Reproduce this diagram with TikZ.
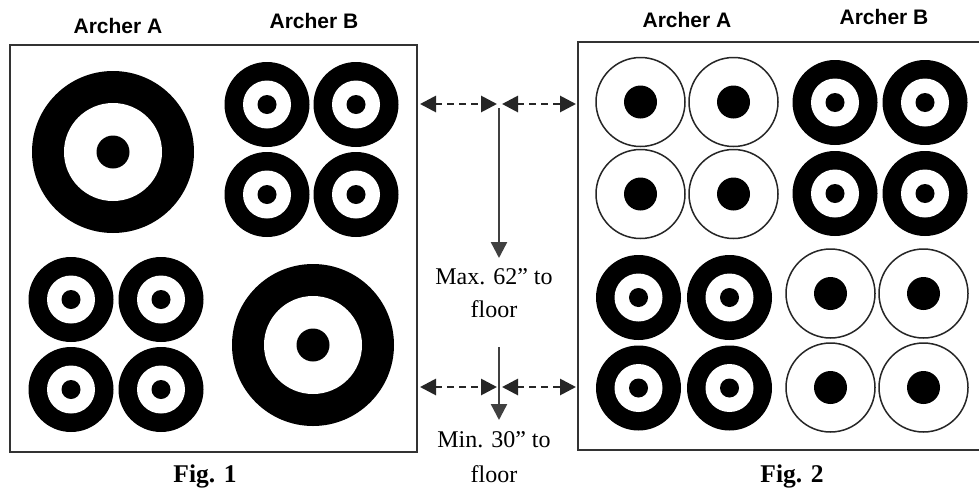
\documentclass[tikz,border=0pt]{standalone}
\usepackage{fontspec}
\setmainfont{Liberation Serif}
\newfontfamily\archerfont{Liberation Sans}
\usetikzlibrary{arrows.meta}
\tikzset{
  archer/.style={font=\archerfont\bfseries\fontsize{21}{25}\selectfont, inner sep=0pt, anchor=base},
  figcap/.style={font=\bfseries\fontsize{25.5}{30}\selectfont, inner sep=0pt, anchor=base},
  measure/.style={font=\fontsize{24}{29}\selectfont, inner sep=0pt, anchor=base},
  boxline/.style={draw=black!80, line width=2pt},
  dimarrow/.style={line width=2.8pt, draw=black!85, dash pattern=on 7pt off 5pt,
     {Triangle[length=16pt,width=16pt]}-{Triangle[length=16pt,width=16pt]}},
  droparrow/.style={line width=2.4pt, draw=black!75, -{Triangle[length=16pt,width=16pt]}},
  thinring/.style={draw=black!85, line width=1.5pt, fill=white}
}
\newcommand\bigtgt[1]{%
  \fill (#1) circle (81pt);
  \fill[white] (#1) circle (49pt);
  \fill (#1) circle (16.5pt);}
\newcommand\smalltgt[1]{%
  \fill (#1) circle (42.5pt);
  \fill[white] (#1) circle (24pt);
  \fill (#1) circle (9.5pt);}
\newcommand\thintgt[1]{%
  \path[thinring] (#1) circle (44.5pt);
  \fill (#1) circle (16.5pt);}
\begin{document}
\begin{tikzpicture}[x=1pt,y=-1pt]
\useasboundingbox[fill=white] (0,0) rectangle (979,493);

% frames
\draw[boxline] (10,45) rectangle (417,452);
\draw[boxline] (979,42) -- (578,42) -- (578,450) -- (979,450);

% labels
\node[archer] (f1a) at (118,33) {Archer A};
\node[archer] (f1b) at (314,28) {Archer B};
\node[archer] (f2a) at (687,27) {Archer A};
\node[archer] (f2b) at (884,24) {Archer B};
\node[figcap] (cap1) at (205,482) {Fig. 1};
\node[figcap] (cap2) at (792,482) {Fig. 2};

% Fig. 1 targets
\bigtgt{113,152}
\smalltgt{267,104.5}
\smalltgt{356,104.5}
\smalltgt{267,194.5}
\smalltgt{356,194.5}
\smalltgt{71,299.5}
\smalltgt{161,299.5}
\smalltgt{71,389.5}
\smalltgt{161,389.5}
\bigtgt{313,345}

% Fig. 2 targets
\thintgt{640.5,102}
\thintgt{733.5,102}
\thintgt{640.5,194}
\thintgt{733.5,194}
\smalltgt{835,102.5}
\smalltgt{925,102.5}
\smalltgt{835,193.5}
\smalltgt{925,193.5}
\smalltgt{638.5,297.5}
\smalltgt{729.5,297.5}
\smalltgt{638.5,388}
\smalltgt{729.5,388}
\thintgt{830.5,293.5}
\thintgt{923.5,293.5}
\thintgt{830.5,387.5}
\thintgt{923.5,387.5}

% dimension arrows
\coordinate (ul) at (420,104);
\coordinate (um) at (497,104);
\coordinate (um2) at (502,104);
\coordinate (ur) at (576,104);
\coordinate (ll) at (420,387);
\coordinate (lm) at (497,387);
\coordinate (lm2) at (502,387);
\coordinate (lr) at (576,387);
\coordinate (v1s) at (499,108);
\coordinate (v1e) at (499,258);
\coordinate (v2s) at (499,347);
\coordinate (v2e) at (499,420);

\draw[dimarrow] (ul) -- (um);
\draw[dimarrow] (um2) -- (ur);
\draw[dimarrow] (ll) -- (lm);
\draw[dimarrow] (lm2) -- (lr);
\draw[droparrow] (v1s) -- (v1e);
\draw[droparrow] (v2s) -- (v2e);

\node[measure] (max1) at (494,284) {Max. 62” to};
\node[measure] (max2) at (494,317) {floor};
\node[measure] (min1) at (494,447) {Min. 30” to};
\node[measure] (min2) at (494,482) {floor};
\end{tikzpicture}
\end{document}
